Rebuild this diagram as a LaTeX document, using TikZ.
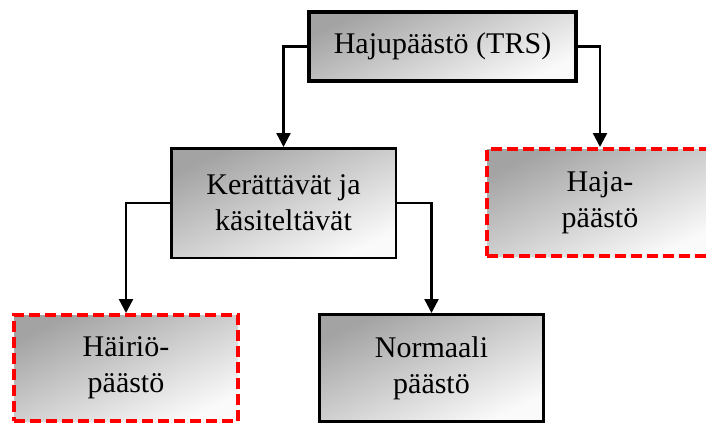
\documentclass[tikz,border=0pt]{standalone}
\usepackage{fontspec}
\setmainfont{Liberation Serif}
\usetikzlibrary{arrows.meta}
\begin{document}
\begin{tikzpicture}[x=1pt,y=-1pt,
  box/.style={draw=black, line width=3pt, top color=black!36, bottom color=black!2, shading angle=25,
    align=center, inner sep=0pt, font=\fontsize{30}{36}\selectfont},
  dbox/.style={box, draw=red, line width=4pt, dash pattern=on 11pt off 5pt},
  conn/.style={line width=2.4pt, -{Triangle[width=14pt,length=14pt]}}]
\clip (0,0) rectangle (706,424);
\useasboundingbox (0,0) rectangle (706,424);
\fill[white] (0,0) rectangle (706,424);
\node[box, line width=4pt, minimum width=267pt, minimum height=69pt] (top) at (442.5,46.5) {Hajupäästö (TRS)};
\node[box, line width=2.5pt, minimum width=224.5pt, minimum height=109.5pt] (ker) at (283.5,203) {Kerättävät ja\\käsiteltävät};
\node[dbox, minimum width=226pt, minimum height=107pt] (haja) at (600,202.5) {Haja-\\päästö};
\node[dbox, minimum width=224pt, minimum height=106pt] (hai) at (126,368) {Häiriö-\\päästö};
\node[box, minimum width=224pt, minimum height=107pt] (norm) at (431.5,368) {Normaali\\päästö};
\draw[conn] (top.west) -| (ker.north);
\draw[conn] (top.east) -| (haja.north);
\draw[conn] (ker.west) -| (hai.north);
\draw[conn] (ker.east) -| (norm.north);
\end{tikzpicture}
\end{document}
